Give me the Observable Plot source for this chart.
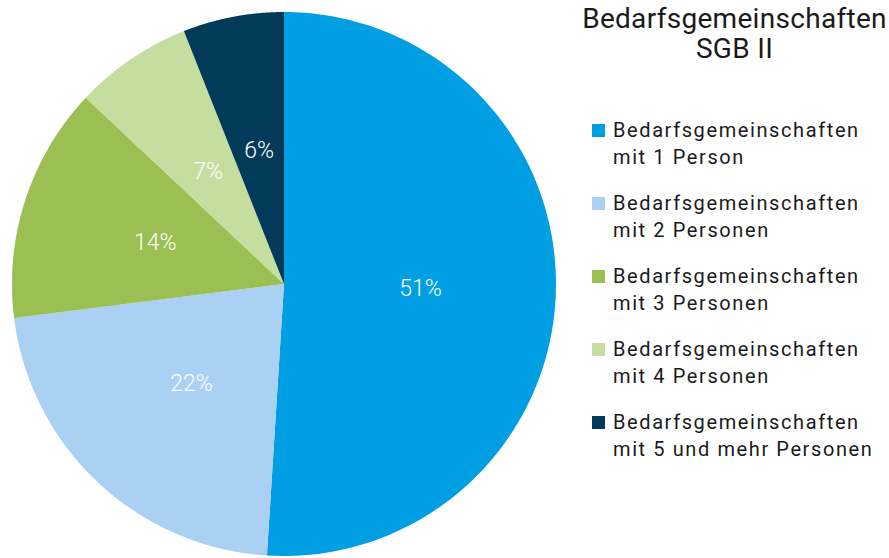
<!DOCTYPE html>
<html><head><meta charset="utf-8">
<script src="https://cdn.jsdelivr.net/npm/d3@7"></script>
<script src="https://cdn.jsdelivr.net/npm/@observablehq/plot@0.6"></script>
<style>
body{margin:0;background:#fff;font-family:Roboto,"Liberation Sans",sans-serif;color:#1a1a1a;}
#wrap{display:flex;width:889px;height:558px;}
#chart{width:568px;height:558px;}
#legend{width:321px;height:558px;position:relative;}
#title{position:absolute;left:12px;width:309px;top:4px;text-align:center;font-size:28px;line-height:30px;letter-spacing:0.3px;}
#items{position:absolute;left:24px;top:117px;}
.item{position:relative;padding-left:21px;font-size:20px;line-height:27px;letter-spacing:1.6px;margin-bottom:19px;white-space:nowrap;}
.sw{position:absolute;left:0;top:7px;width:13px;height:13px;}
</style></head><body>
<div id="wrap"><div id="chart"></div><div id="legend"><div id="title"></div><div id="items"></div></div></div>
<script>
const titleLines = ["Bedarfsgemeinschaften", "SGB II"];
const categories = [
  "Bedarfsgemeinschaften mit 1 Person",
  "Bedarfsgemeinschaften mit 2 Personen",
  "Bedarfsgemeinschaften mit 3 Personen",
  "Bedarfsgemeinschaften mit 4 Personen",
  "Bedarfsgemeinschaften mit 5 und mehr Personen"
];
const legendLine1 = ["Bedarfsgemeinschaften","Bedarfsgemeinschaften","Bedarfsgemeinschaften","Bedarfsgemeinschaften","Bedarfsgemeinschaften"];
const legendLine2 = ["mit 1 Person","mit 2 Personen","mit 3 Personen","mit 4 Personen","mit 5 und mehr Personen"];
const shares = [51, 22, 14, 7, 6];
const labels = ["51%", "22%", "14%", "7%", "6%"];
const colors = ["#009fe3", "#aad0f3", "#9bbf52", "#c5de9f", "#023a5a"];

const arcs = d3.pie().sort(null).value(d => d)(shares);
const wedgeRows = [];
arcs.forEach((a, i) => {
  const n = 120;
  for (let k = 0; k <= n; k++) {
    const t = a.startAngle + (a.endAngle - a.startAngle) * k / n;
    wedgeRows.push({cat: categories[i], x1: Math.sin(t), y1: Math.cos(t), x2: 0, y2: 0});
  }
});
const labelRows = arcs.map((a, i) => {
  const m = (a.startAngle + a.endAngle) / 2;
  return {text: labels[i], x: 0.5 * Math.sin(m), y: 0.5 * Math.cos(m)};
});

const chart = Plot.plot({
  width: 568, height: 558,
  marginLeft: 12, marginRight: 12, marginTop: 12, marginBottom: 2,
  x: {domain: [-1, 1], axis: null},
  y: {domain: [-1, 1], axis: null},
  color: {domain: categories, range: colors},
  style: {background: "white"},
  marks: [
    Plot.area(wedgeRows, {x1: "x1", y1: "y1", x2: "x2", y2: "y2", z: "cat", fill: "cat", curve: "linear"}),
    Plot.text(labelRows, {x: "x", y: "y", text: "text", fill: "white", fontSize: 23, fontWeight: 300, fontFamily: "Roboto, sans-serif"})
  ]
});
document.getElementById("chart").append(chart);

document.getElementById("title").innerHTML = titleLines.map(t => `<div>${t}</div>`).join("");
document.getElementById("items").innerHTML = categories.map((c, i) =>
  `<div class="item"><span class="sw" style="background:${colors[i]}"></span><div>${legendLine1[i]}</div><div>${legendLine2[i]}</div></div>`
).join("");
</script>
</body></html>
